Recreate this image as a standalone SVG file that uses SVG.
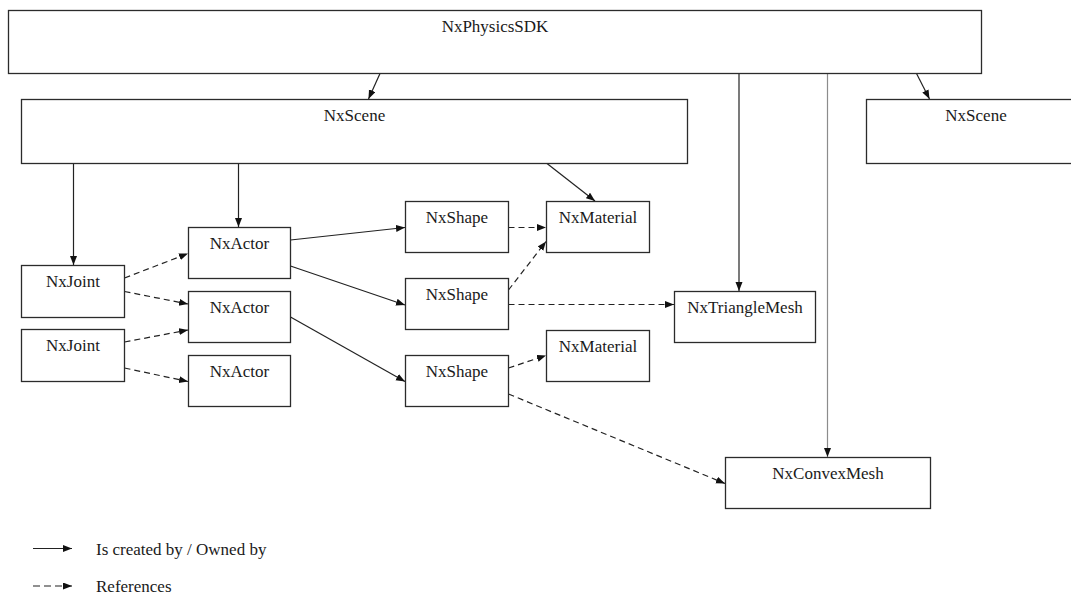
<svg xmlns="http://www.w3.org/2000/svg" width="1071" height="594" viewBox="0 0 1071 594">
<style>
.box{fill:#fff;stroke:#2b2b2b;stroke-width:1.3}
.lbl{font-family:"Liberation Serif","Times New Roman",serif;font-size:17px;fill:#1a1a1a;text-anchor:middle}
.leg{font-family:"Liberation Serif","Times New Roman",serif;font-size:17px;fill:#1a1a1a}
.own{fill:none;stroke:#222;stroke-width:1.2;marker-end:url(#ah)}
.grey{stroke:#8c8c8c}
.ref{fill:none;stroke:#222;stroke-width:1.2;stroke-dasharray:6,4;marker-end:url(#ah)}
</style>
<defs>
<marker id="ah" markerUnits="userSpaceOnUse" markerWidth="10" markerHeight="8" refX="9" refY="3.5" orient="auto">
<path d="M0,0 L9,3.5 L0,7 z" fill="#111"/>
</marker>
</defs>
<rect width="1071" height="594" fill="#fff"/>
<g id="connectors">
<line class="own" x1="380" y1="73.5" x2="368.5" y2="99"/>
<line class="own" x1="916.5" y1="73.5" x2="929.5" y2="99"/>
<line class="own" x1="739" y1="73.5" x2="739" y2="291"/>
<line class="own grey" x1="827.5" y1="73.5" x2="827.5" y2="457"/>
<line class="own" x1="73.5" y1="163.5" x2="73.5" y2="265"/>
<line class="own" x1="238.5" y1="163.5" x2="238.5" y2="227"/>
<line class="own" x1="547" y1="163.5" x2="595" y2="201"/>
<line class="own" x1="290.5" y1="240" x2="405" y2="227.5"/>
<line class="own" x1="290.5" y1="266" x2="405" y2="305"/>
<line class="own" x1="290.5" y1="317" x2="405" y2="381.5"/>
<line class="ref" x1="124.5" y1="278" x2="188" y2="253.5"/>
<line class="ref" x1="124.5" y1="291.5" x2="188" y2="304"/>
<line class="ref" x1="124.5" y1="342" x2="188" y2="330"/>
<line class="ref" x1="124.5" y1="368" x2="188" y2="381.5"/>
<line class="ref" x1="508.5" y1="227.5" x2="546" y2="227.5"/>
<line class="ref" x1="508.5" y1="290" x2="546" y2="241.5"/>
<line class="ref" x1="508.5" y1="304.5" x2="674" y2="304.5"/>
<line class="ref" x1="508.5" y1="368" x2="546" y2="355.5"/>
<line class="ref" x1="508.5" y1="394" x2="725" y2="483.5"/>
</g>
<g id="sdk"><rect class="box" x="8.5" y="10.5" width="973" height="63"/><text class="lbl" x="495" y="31.5">NxPhysicsSDK</text></g>
<g id="scene1"><rect class="box" x="21.5" y="99.5" width="666" height="64"/><text class="lbl" x="354.5" y="121">NxScene</text></g>
<g id="scene2"><rect class="box" x="866.5" y="99.5" width="220" height="64"/><text class="lbl" x="976" y="121">NxScene</text></g>
<g id="joint1"><rect class="box" x="21.5" y="265.5" width="103" height="52"/><text class="lbl" x="73" y="287">NxJoint</text></g>
<g id="joint2"><rect class="box" x="21.5" y="329.5" width="103" height="52"/><text class="lbl" x="73" y="351">NxJoint</text></g>
<g id="actor1"><rect class="box" x="188.5" y="227.5" width="102" height="51"/><text class="lbl" x="239.5" y="249">NxActor</text></g>
<g id="actor2"><rect class="box" x="188.5" y="291.5" width="102" height="51"/><text class="lbl" x="239.5" y="313">NxActor</text></g>
<g id="actor3"><rect class="box" x="188.5" y="355.5" width="102" height="51"/><text class="lbl" x="239.5" y="377">NxActor</text></g>
<g id="shape1"><rect class="box" x="405.5" y="201.5" width="103" height="51"/><text class="lbl" x="457" y="223">NxShape</text></g>
<g id="shape2"><rect class="box" x="405.5" y="278.5" width="103" height="51"/><text class="lbl" x="457" y="300">NxShape</text></g>
<g id="shape3"><rect class="box" x="405.5" y="355.5" width="103" height="51"/><text class="lbl" x="457" y="377">NxShape</text></g>
<g id="material1"><rect class="box" x="546.5" y="201.5" width="103" height="51"/><text class="lbl" x="598" y="223">NxMaterial</text></g>
<g id="material2"><rect class="box" x="546.5" y="330.5" width="103" height="51"/><text class="lbl" x="598" y="352">NxMaterial</text></g>
<g id="trianglemesh"><rect class="box" x="674.5" y="291.5" width="141" height="51"/><text class="lbl" x="745" y="313">NxTriangleMesh</text></g>
<g id="convexmesh"><rect class="box" x="725.5" y="457.5" width="205" height="51"/><text class="lbl" x="828" y="479">NxConvexMesh</text></g>
<g id="legend">
<line class="own" x1="33" y1="548.5" x2="72" y2="548.5"/>
<text class="leg" x="96" y="555">Is created by / Owned by</text>
<line class="ref" x1="33" y1="586" x2="72" y2="586" style="stroke-dasharray:7,4"/>
<text class="leg" x="96" y="592">References</text>
</g>
</svg>
